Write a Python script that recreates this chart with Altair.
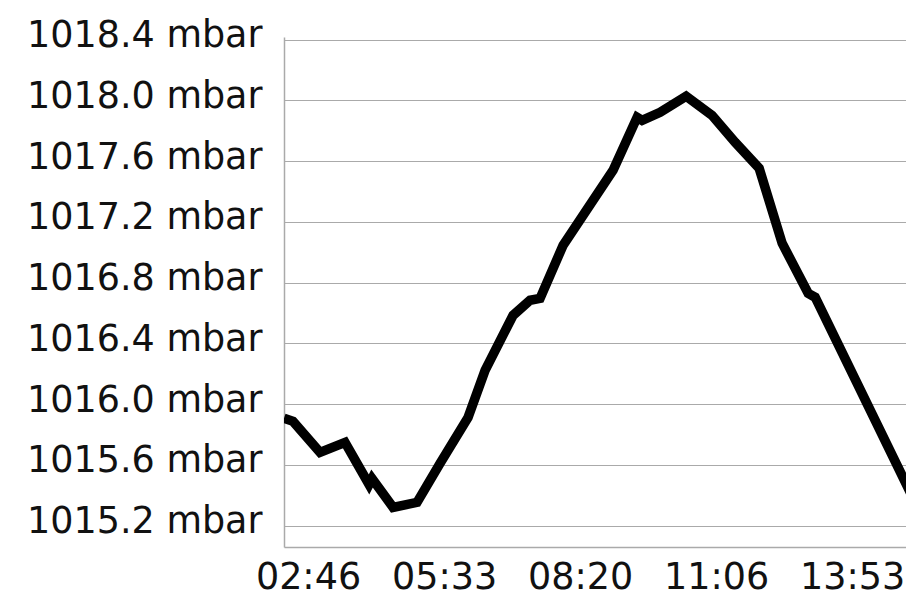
import altair as alt
import pandas as pd

# time in seconds since midnight, pressure in mbar
seconds = [8235, 8897, 10882, 12721, 14485, 14706, 16250, 18015, 19706, 21765,
           23015, 25074, 26324, 27059, 28750, 32427, 34191, 34559, 35882, 37794,
           39706, 41397, 43162, 44853, 46765, 47279, 54338, 55147]
pressure = [1015.907, 1015.887, 1015.683, 1015.749, 1015.472, 1015.511, 1015.321,
            1015.354, 1015.611, 1015.913, 1016.223, 1016.585, 1016.684, 1016.697,
            1017.046, 1017.540, 1017.888, 1017.868, 1017.921, 1018.027, 1017.901,
            1017.724, 1017.553, 1017.059, 1016.730, 1016.704, 1015.407, 1015.894]
x_ticks = [10000, 20000, 30000, 40000, 50000]
y_ticks = [1015.2, 1015.6, 1016.0, 1016.4, 1016.8, 1017.2, 1017.6, 1018.0, 1018.4]

df = pd.DataFrame({"t": seconds, "p": pressure})

FONT = "DejaVu Sans"

chart = alt.Chart(df).mark_line(
    color="#000000", strokeWidth=9.5, clip=True, strokeJoin="miter"
).encode(
    x=alt.X("t:Q",
            scale=alt.Scale(domain=[8235, 53956], nice=False, zero=False),
            axis=alt.Axis(values=x_ticks, grid=False, ticks=False, title=None,
                          labelExpr="utcFormat(datum.value * 1000, '%H:%M')",
                          labelFont=FONT, labelFontSize=36.5, labelColor="#111111",
                          labelPadding=41, labelBaseline="alphabetic",
                          domainColor="#aaaaaa", domainWidth=1.5,
                          labelFlush=False, labelOverlap=False, labelLimit=400)),
    y=alt.Y("p:Q",
            scale=alt.Scale(domain=[1015.06, 1018.417], nice=False, zero=False),
            axis=alt.Axis(values=y_ticks, grid=True, ticks=False, title=None,
                          labelExpr="format(datum.value, '.1f') + ' mbar'",
                          labelFont=FONT, labelFontSize=36.5, labelColor="#111111",
                          labelPadding=22, labelOffset=-4,
                          domainColor="#aaaaaa", domainWidth=1.5,
                          gridColor="#aaaaaa", gridWidth=1.2,
                          labelFlush=False, labelOverlap=False, labelLimit=400)),
).properties(
    width=622, height=510,
    autosize=alt.AutoSizeParams(type="none"),
    padding={"left": 276, "top": 29, "right": 0, "bottom": 50},
).configure_view(stroke=None)

chart.save("out.html", embed_options={"renderer": "svg", "actions": False})
